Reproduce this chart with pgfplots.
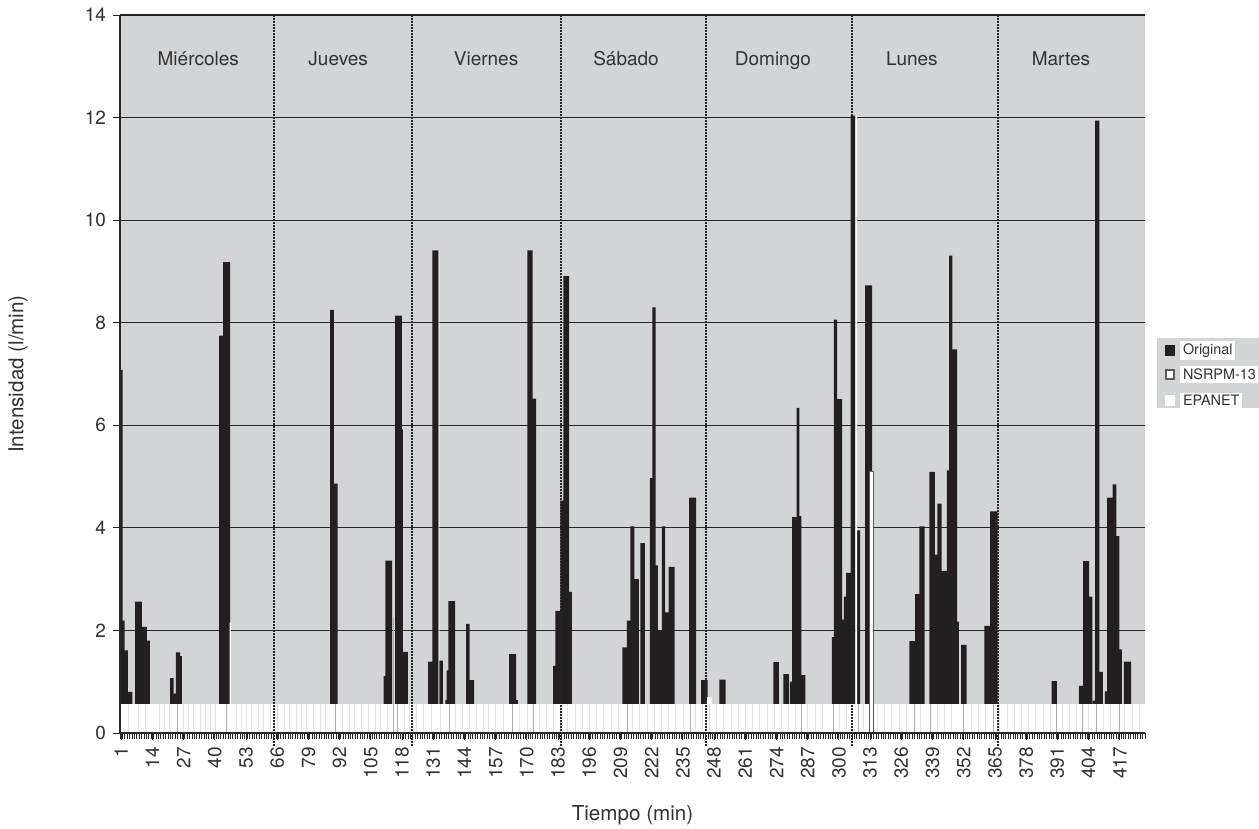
\documentclass[border=0pt]{standalone}
\usepackage{fontspec}
\setmainfont{TeX Gyre Heros}
\usepackage{pgfplots}
\pgfplotsset{compat=1.18}
\definecolor{bggray}{RGB}{211,212,214}
\definecolor{barblack}{RGB}{35,31,32}
\definecolor{txt}{RGB}{50,50,50}
\begin{document}
\begin{tikzpicture}
\useasboundingbox (-60pt,-48pt) rectangle (569.5pt,366.5pt);
\begin{axis}[
  at={(0,0)}, anchor=south west,
  width=512.5pt, height=359pt, scale only axis,
  xmin=0.5, xmax=427.5, ymin=0, ymax=14,
  clip=false,
  axis background/.style={fill=bggray},
  axis lines*=left,
  axis line style={black!85, line width=0.8pt},
  xtick={1,14,...,417},
  minor xtick={0.5,1.5,...,427.5},
  ytick={0,2,...,14},
  tick align=outside,
  major tick length=3.5pt, minor tick length=3pt,
  tick style={black!85, line width=0.45pt},
  ymajorgrids, grid style={black!85, line width=0.6pt},
  /pgf/number format/assume math mode=true,
  xticklabel style={rotate=90, anchor=east, font=\fontsize{9.5}{10}\selectfont, text=txt},
  yticklabel style={font=\fontsize{9.5}{10}\selectfont, text=txt},
  xlabel={Tiempo (min)}, ylabel={Intensidad (l/min)},
  xlabel style={at={(axis description cs:0.5,-0.1142)}, anchor=center, font=\fontsize{10.3}{12}\selectfont, text=txt},
  ylabel style={at={(axis description cs:-0.0995,0.5)}, anchor=center, font=\fontsize{10.3}{12}\selectfont, text=txt},
]
% Original
\addplot[ybar interval, fill=barblack, draw=none] coordinates {
(0.6,7.08) (1.55,2.19) (2.4,1.61) (3.8,0.80) (5.7,0)
(6.8,2.56) (9.6,2.07) (11.7,1.80) (12.9,0)
(21.4,1.07) (22.8,0.77) (23.8,1.57) (25.5,1.50) (26.3,0)
(41.8,7.75) (43.5,9.18) (46.4,0)
(88.0,8.25) (89.6,4.86) (91.2,0)
(110.3,1.11) (111.1,3.36) (113.9,0)
(115.1,8.14) (117.9,5.92) (118.3,1.58) (120.4,0)
(128.9,1.39) (130.6,9.41) (133.2,0) (133.4,1.41) (135.0,0)
(136.0,0.64) (136.6,1.22) (137.3,2.57) (140.1,0)
(144.7,2.13) (146.1,1.03) (148.0,0)
(162.6,1.54) (165.5,0.64) (166.3,0)
(170.2,9.41) (172.4,6.52) (173.8,0)
(180.9,1.31) (181.9,2.38) (184.0,4.53) (185.2,8.91) (187.6,2.75) (188.7,0)
(209.8,1.67) (211.7,2.19) (213.1,4.03) (214.8,3.00) (216.7,0)
(217.3,3.70) (219.2,0)
(221.2,4.97) (222.3,8.30) (223.6,3.27) (224.6,2.00) (226.2,4.03) (227.6,2.35) (229.0,3.24) (231.5,0)
(237.6,4.59) (240.5,0)
(242.6,1.03) (245.3,0)
(250.2,1.04) (252.8,0)
(272.7,1.38) (275.0,0)
(276.9,1.15) (279.1,0)
(279.6,1.00) (280.5,4.21) (282.4,6.34) (283.5,4.23) (284.4,1.13) (286.0,0)
(297.1,1.87) (297.9,8.06) (299.2,6.51) (301.3,2.21) (302.1,2.66) (303.0,3.12) (304.9,12.04) (306.8,0)
(307.6,3.95) (308.8,0)
(310.9,8.73) (313.8,0)
(329.3,1.79) (331.7,2.71) (333.5,4.03) (335.7,0)
(337.7,5.09) (340.0,3.48) (341.0,4.47) (342.8,3.16) (345.0,5.12) (345.9,9.31) (347.3,7.48) (349.2,2.17) (350.0,0)
(350.9,1.72) (353.2,0)
(360.6,2.09) (363.0,4.32) (366.1,0)
(388.6,1.01) (390.8,0)
(400.0,0.92) (401.7,3.35) (404.2,2.66) (405.6,0)
(405.8,0.63) (406.7,11.94) (408.5,1.19) (410.0,0)
(410.8,0.81) (411.7,4.59) (414.0,4.85) (415.6,3.84) (416.8,1.63) (417.9,0)
(418.7,1.39) (421.7,0) (427.5,0)
};
% EPANET
\addplot[ybar interval, fill=white, draw=none] coordinates {
(0.5,0.565) (46.2,2.15) (46.7,0.565) (133.2,9.41) (133.5,0.565)
(245.0,0.70) (247.0,0.565) (306.8,12.04) (307.6,0.565) (427.5,0.565)
};
% NSRPM-13
\addplot[ycomb, gray!22, line width=0.3pt] coordinates {
(4,0.565) (8,0.565) (11,0.565) (17,0.565) (19,0.565) (21,0.565) (27,0.565) (29,0.565) (31,0.565) (34,0.565) (36,0.565) (38,0.565) (40,0.565) (49,0.565) (51,0.565) (53,0.565) (55,0.565) (58,0.565) (60,0.565) (63,0.565) (66,0.565) (69,0.565) (71,0.565) (74,0.565) (76,0.565) (78,0.565) (81,0.565) (84,0.565) (86,0.565) (93,0.565) (96,0.565) (98,0.565) (101,0.565) (104,0.565) (107,0.565) (109,0.565) (112,0.565) (119,0.565) (121,0.565) (124,0.565) (127,0.565) (130,0.565) (134,0.565) (140,0.565) (143,0.565) (146,0.565) (149,0.565) (152,0.565) (154,0.565) (157,0.565) (160,0.565) (167,0.565) (170,0.565) (175,0.565) (178,0.565) (181,0.565) (184,0.565) (187,0.565) (190,0.565) (193,0.565) (196,0.565) (199,0.565) (202,0.565) (205,0.565) (208,0.565) (214,0.565) (217,0.565) (220,0.565) (223,0.565) (226,0.565) (229,0.565) (232,0.565) (235,0.565) (240,0.565) (243,0.565) (246,0.565) (249,0.565) (252,0.565) (255,0.565) (258,0.565) (261,0.565) (264,0.565) (267,0.565) (270,0.565) (273,0.565) (276,0.565) (279,0.565) (282,0.565) (287,0.565) (290,0.565) (293,0.565) (300,0.565) (303,0.565) (310,0.565) (316,0.565) (319,0.565) (322,0.565) (325,0.565) (328,0.565) (334,0.565) (341,0.565) (344,0.565) (347,0.565) (355,0.565) (358,0.565) (361,0.565) (367,0.565) (370,0.565) (373,0.565) (376,0.565) (379,0.565) (382,0.565) (385,0.565) (388,0.565) (393,0.565) (396,0.565) (399,0.565) (404,0.565) (410,0.565) (413,0.565) (419,0.565) (422,0.565) (425,0.565)
};
\addplot[ycomb, gray!65, line width=0.35pt] coordinates {
(24.2,0.565) (45,0.565) (90.1,0.565) (114.2,2.25) (116.2,0.565) (137.7,0.565) (164.1,0.565) (172.5,0.565) (211.8,0.565) (237.9,0.565) (284.5,0.565) (297.7,0.565) (307.9,0.565) (331.3,0.565) (338,0.565) (351.8,0.565) (364.3,0.565) (390.7,0.565) (401.5,0.565) (407.4,0.565) (416.8,0.565)
};
\addplot[ybar interval, fill=white, draw=gray!70!black, line width=0.5pt] coordinates {(312.8,5.1) (314.3,5.1)};
% day separators
\foreach \d in {64.5,122.3,184.3,244.6,305.6,366.2}{
  \edef\tmp{\noexpand\draw[black!85, line width=1.1pt, dash pattern=on 0.9pt off 0.6pt] (axis cs:\d,-0.25) -- (axis cs:\d,14);}\tmp
}
\draw[black!85, line width=0.8pt] (axis cs:0.5,14) -- (axis cs:0.5,0) -- (axis cs:427.5,0);
% day labels
\begin{scope}[every node/.style={anchor=base, font=\fontsize{9.5}{11}\selectfont, text=txt}]
\node at (axis cs:33.1,13.02) {Miércoles};
\node at (axis cs:91.4,13.02) {Jueves};
\node at (axis cs:153,13.02) {Viernes};
\node at (axis cs:211.3,13.02) {Sábado};
\node at (axis cs:272.5,13.02) {Domingo};
\node at (axis cs:330.4,13.02) {Lunes};
\node at (axis cs:392.5,13.02) {Martes};
\end{scope}
\end{axis}
% legend
\fill[bggray] (518.5pt,162.5pt) rectangle (569.5pt,197.5pt);
\fill[barblack] (522.5pt,188.5pt) rectangle (527.5pt,194pt);
\draw[gray!70!black, line width=1pt, fill=white] (523pt,177pt) rectangle (527pt,181.5pt);
\fill[white] (522.5pt,163.5pt) rectangle (527.5pt,169pt);
\begin{scope}[every node/.style={anchor=west, fill=white, inner sep=1.3pt, font=\fontsize{7.2}{8}\selectfont, text=txt}]
\node at (530pt,191.3pt) {Original};
\node at (530pt,179.3pt) {NSRPM-13};
\node at (530pt,166.3pt) {EPANET};
\end{scope}
\end{tikzpicture}
\end{document}
